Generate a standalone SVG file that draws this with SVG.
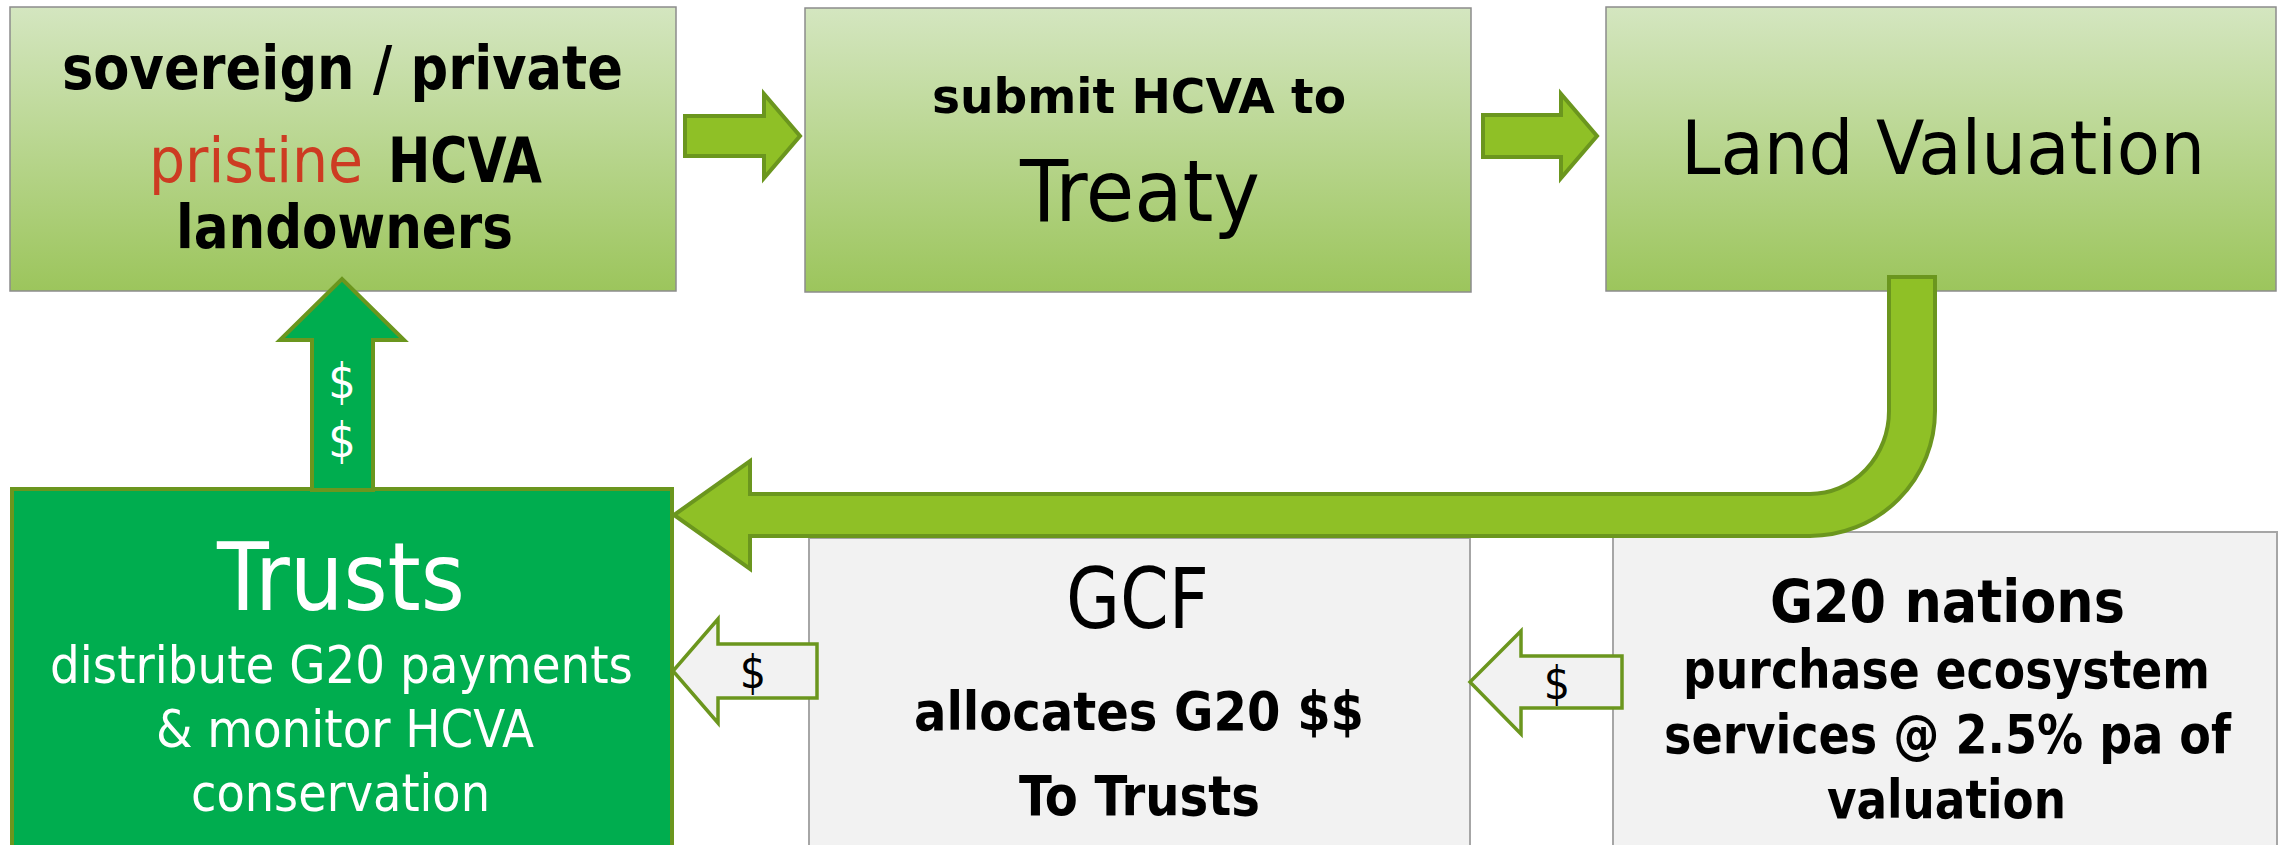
<svg xmlns="http://www.w3.org/2000/svg" width="2280" height="845" viewBox="0 0 2280 845">
<defs>
<linearGradient id="gbox" x1="0" y1="0" x2="0" y2="1">
<stop offset="0" stop-color="#D4E6C0"/>
<stop offset="1" stop-color="#9CC55C"/>
</linearGradient>
<style>
.box{fill:url(#gbox);stroke:#8C8C8C;stroke-width:1.5}
.grey{fill:#F2F2F2;stroke:#A6A6A6;stroke-width:2}
.trust{fill:#00AD4F;stroke:#6B961E;stroke-width:4}
.arr{fill:#8FC026;stroke:#6B961E;stroke-width:4;stroke-linejoin:miter}
.uparr{fill:#00AD4F;stroke:#6B961E;stroke-width:4}
.hollow{fill:#F2F2F2;stroke:#6B961E;stroke-width:3.5}
text{font-family:"DejaVu Sans Condensed","DejaVu Sans","Noto Sans",sans-serif;fill:#000}
.b{font-weight:700}
.w{fill:#FFFFFF}
.red{fill:#CD3B22}
</style>
</defs>
<rect x="0" y="0" width="2280" height="845" fill="#FFFFFF"/>

<g id="node-landowners">
<rect class="box" x="10" y="7" width="666" height="284"/>
<text class="b" x="62" y="89" font-size="60" textLength="561" lengthAdjust="spacingAndGlyphs">sovereign / private</text>
<text x="149" y="182" font-size="62" class="red" textLength="214" lengthAdjust="spacingAndGlyphs">pristine</text>
<text class="b" x="388" y="182" font-size="62" textLength="154" lengthAdjust="spacingAndGlyphs">HCVA</text>
<text class="b" x="176" y="248" font-size="60" textLength="337" lengthAdjust="spacingAndGlyphs">landowners</text>
</g>

<g id="node-treaty">
<rect class="box" x="805" y="8" width="666" height="284"/>
<text class="b" x="932" y="113" font-size="48" textLength="414" lengthAdjust="spacingAndGlyphs">submit HCVA to</text>
<text x="1020" y="221" font-size="86" textLength="240" lengthAdjust="spacingAndGlyphs">Treaty</text>
</g>

<g id="node-valuation">
<rect class="box" x="1606" y="7" width="670" height="284"/>
<text x="1681" y="174" font-size="75" textLength="524" lengthAdjust="spacingAndGlyphs">Land Valuation</text>
</g>

<g id="node-gcf">
<rect class="grey" x="809" y="538" width="661" height="320"/>
<text x="1066" y="628" font-size="84" textLength="143" lengthAdjust="spacingAndGlyphs">GCF</text>
<text class="b" x="914" y="730" font-size="54" textLength="450" lengthAdjust="spacingAndGlyphs">allocates G20 $$</text>
<text class="b" x="1019" y="815" font-size="56" textLength="241" lengthAdjust="spacingAndGlyphs">To Trusts</text>
</g>

<g id="node-g20">
<rect class="grey" x="1613" y="532" width="664" height="320"/>
<text class="b" x="1770" y="622" font-size="58" textLength="355" lengthAdjust="spacingAndGlyphs">G20 nations</text>
<text class="b" x="1683" y="688" font-size="54" textLength="527" lengthAdjust="spacingAndGlyphs">purchase ecosystem</text>
<text class="b" x="1664" y="753" font-size="54" textLength="567" lengthAdjust="spacingAndGlyphs">services @ 2.5% pa of</text>
<text class="b" x="1827" y="818" font-size="54" textLength="239" lengthAdjust="spacingAndGlyphs">valuation</text>
</g>

<g id="node-trusts">
<rect class="trust" x="12" y="489" width="660" height="370"/>
<text class="w" x="217" y="610" font-size="95" textLength="248" lengthAdjust="spacingAndGlyphs">Trusts</text>
<text class="w" x="50" y="683" font-size="52" textLength="583" lengthAdjust="spacingAndGlyphs">distribute G20 payments</text>
<text class="w" x="156" y="747" font-size="52" textLength="378" lengthAdjust="spacingAndGlyphs">&amp; monitor HCVA</text>
<text class="w" x="191" y="811" font-size="52" textLength="299" lengthAdjust="spacingAndGlyphs">conservation</text>
</g>

<g id="connectors">
<polygon class="arr" points="685,116 764,116 764,94 800,136 764,178 764,156 685,156"/>
<polygon class="arr" points="1483,115 1561,115 1561,94 1597,136 1561,178 1561,157 1483,157"/>
<path class="arr" d="M1889,277 L1935,277 L1935,411 A125,125 0 0 1 1810,536 L750,536 L750,569 L674,515 L750,461 L750,494 L1810,494 A79,83 0 0 0 1889,411 Z"/>
<polygon class="uparr" points="312,490 312,340 280,340 342,279 404,340 373,340 373,490"/>
<text class="w" x="342" y="398" font-size="48" text-anchor="middle">$</text>
<text class="w" x="342" y="457" font-size="48" text-anchor="middle">$</text>
<polygon class="hollow" points="817,644 718,644 718,619 673,671 718,723 718,698 817,698"/>
<text x="753" y="688" font-size="46" text-anchor="middle">$</text>
<polygon class="hollow" points="1622,656 1521,656 1521,631 1470,682 1521,734 1521,708 1622,708"/>
<text x="1557" y="699" font-size="46" text-anchor="middle">$</text>
</g>
</svg>
